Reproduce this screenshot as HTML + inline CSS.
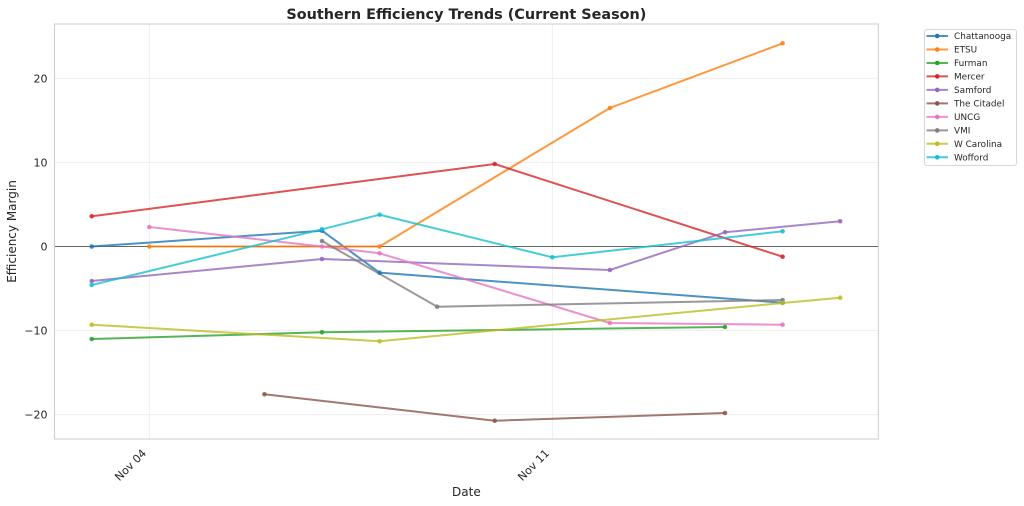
<!DOCTYPE html>
<html><head><meta charset="utf-8"><style>
html,body{margin:0;padding:0;background:#fff;}
svg{display:block;}
text{font-family:"DejaVu Sans","Liberation Sans",sans-serif;fill:#262626;}
</style></head><body>
<svg width="1024" height="506" viewBox="0 0 1024 506" xmlns="http://www.w3.org/2000/svg">
<rect width="1024" height="506" fill="#fff"/>
<!-- grid -->
<g stroke="#ebebeb" stroke-width="0.8">
<line x1="54.5" x2="878.3" y1="78.3" y2="78.3"/>
<line x1="54.5" x2="878.3" y1="162.4" y2="162.4"/>
<line x1="54.5" x2="878.3" y1="330.6" y2="330.6"/>
<line x1="54.5" x2="878.3" y1="414.7" y2="414.7"/>
<line x1="149.3" x2="149.3" y1="24" y2="439"/>
<line x1="552.3" x2="552.3" y1="24" y2="439"/>
</g>
<!-- zero line -->
<line x1="54.5" x2="878.3" y1="246.5" y2="246.5" stroke="#000" stroke-opacity="0.6" stroke-width="0.9"/>
<!-- series -->
<g fill="none" stroke-width="2" stroke-opacity="0.8" stroke-linejoin="round" stroke-linecap="round">
<polyline stroke="#1f77b4" points="91.7,246.5 322,230.7 379.6,272.7 782.6,302.7"/>
<polyline stroke="#ff7f0e" points="149.3,246.5 379.6,246.5 609.9,108 782.6,43.3"/>
<polyline stroke="#2ca02c" points="91.7,339 322,332.3 725,327"/>
<polyline stroke="#d62728" points="91.7,216.3 494.7,164 782.6,256.7"/>
<polyline stroke="#9467bd" points="91.7,281 322,259 609.9,270 725,232.3 840.2,221.3"/>
<polyline stroke="#8c564b" points="264.4,394.3 494.7,420.7 725,413"/>
<polyline stroke="#e377c2" points="149.3,227 322,246.5 379.6,253.3 609.9,323 782.6,324.7"/>
<polyline stroke="#7f7f7f" points="322,241 437.2,306.7 782.6,300"/>
<polyline stroke="#bcbd22" points="91.7,324.7 379.6,341.3 782.6,303 840.2,297.7"/>
<polyline stroke="#17becf" points="91.7,285 322,229.3 379.6,214.7 552.3,257.3 782.6,231.3"/>
</g>
<g fill-opacity="0.85">
<g fill="#1f77b4"><circle cx="91.7" cy="246.5" r="2.3"/><circle cx="322" cy="230.7" r="2.3"/><circle cx="379.6" cy="272.7" r="2.3"/><circle cx="782.6" cy="302.7" r="2.3"/></g>
<g fill="#ff7f0e"><circle cx="149.3" cy="246.5" r="2.3"/><circle cx="379.6" cy="246.5" r="2.3"/><circle cx="609.9" cy="108" r="2.3"/><circle cx="782.6" cy="43.3" r="2.3"/></g>
<g fill="#2ca02c"><circle cx="91.7" cy="339" r="2.3"/><circle cx="322" cy="332.3" r="2.3"/><circle cx="725" cy="327" r="2.3"/></g>
<g fill="#d62728"><circle cx="91.7" cy="216.3" r="2.3"/><circle cx="494.7" cy="164" r="2.3"/><circle cx="782.6" cy="256.7" r="2.3"/></g>
<g fill="#9467bd"><circle cx="91.7" cy="281" r="2.3"/><circle cx="322" cy="259" r="2.3"/><circle cx="609.9" cy="270" r="2.3"/><circle cx="725" cy="232.3" r="2.3"/><circle cx="840.2" cy="221.3" r="2.3"/></g>
<g fill="#8c564b"><circle cx="264.4" cy="394.3" r="2.3"/><circle cx="494.7" cy="420.7" r="2.3"/><circle cx="725" cy="413" r="2.3"/></g>
<g fill="#e377c2"><circle cx="149.3" cy="227" r="2.3"/><circle cx="322" cy="246.5" r="2.3"/><circle cx="379.6" cy="253.3" r="2.3"/><circle cx="609.9" cy="323" r="2.3"/><circle cx="782.6" cy="324.7" r="2.3"/></g>
<g fill="#7f7f7f"><circle cx="322" cy="241" r="2.3"/><circle cx="437.2" cy="306.7" r="2.3"/><circle cx="782.6" cy="300" r="2.3"/></g>
<g fill="#bcbd22"><circle cx="91.7" cy="324.7" r="2.3"/><circle cx="379.6" cy="341.3" r="2.3"/><circle cx="782.6" cy="303" r="2.3"/><circle cx="840.2" cy="297.7" r="2.3"/></g>
<g fill="#17becf"><circle cx="91.7" cy="285" r="2.3"/><circle cx="322" cy="229.3" r="2.3"/><circle cx="379.6" cy="214.7" r="2.3"/><circle cx="552.3" cy="257.3" r="2.3"/><circle cx="782.6" cy="231.3" r="2.3"/></g>
</g>
<!-- axes frame -->
<rect x="54.5" y="24" width="823.8" height="415" fill="none" stroke="#cccccc" stroke-width="1"/>
<!-- y ticks -->
<g font-size="11" text-anchor="end">
<text x="47.5" y="82.3">20</text>
<text x="47.5" y="166.4">10</text>
<text x="47.5" y="250.5">0</text>
<text x="47.5" y="334.6">−10</text>
<text x="47.5" y="418.7">−20</text>
</g>
<!-- x ticks -->
<g font-size="11" text-anchor="middle">
<text transform="translate(133.2,467.7) rotate(-45)">Nov 04</text>
<text transform="translate(536.2,467.7) rotate(-45)">Nov 11</text>
</g>
<!-- labels -->
<text x="466.4" y="496" font-size="12" text-anchor="middle">Date</text>
<text transform="translate(16,231.5) rotate(-90)" font-size="12" text-anchor="middle">Efficiency Margin</text>
<text x="466.4" y="19" font-size="14.3" font-weight="bold" text-anchor="middle" textLength="360" lengthAdjust="spacingAndGlyphs">Southern Efficiency Trends (Current Season)</text>
<!-- legend -->
<rect x="924.5" y="29.5" width="92" height="136" rx="2.5" fill="#fff" fill-opacity="0.8" stroke="#d6d6d6" stroke-width="1"/>
<g stroke-width="2" stroke-opacity="0.8">
<line x1="926.5" x2="948" y1="36" y2="36" stroke="#1f77b4"/>
<line x1="926.5" x2="948" y1="49.5" y2="49.5" stroke="#ff7f0e"/>
<line x1="926.5" x2="948" y1="63" y2="63" stroke="#2ca02c"/>
<line x1="926.5" x2="948" y1="76.4" y2="76.4" stroke="#d62728"/>
<line x1="926.5" x2="948" y1="89.9" y2="89.9" stroke="#9467bd"/>
<line x1="926.5" x2="948" y1="103.4" y2="103.4" stroke="#8c564b"/>
<line x1="926.5" x2="948" y1="116.9" y2="116.9" stroke="#e377c2"/>
<line x1="926.5" x2="948" y1="130.4" y2="130.4" stroke="#7f7f7f"/>
<line x1="926.5" x2="948" y1="143.8" y2="143.8" stroke="#bcbd22"/>
<line x1="926.5" x2="948" y1="157.3" y2="157.3" stroke="#17becf"/>
</g>
<g>
<circle cx="937.2" cy="36" r="2.3" fill="#1f77b4"/>
<circle cx="937.2" cy="49.5" r="2.3" fill="#ff7f0e"/>
<circle cx="937.2" cy="63" r="2.3" fill="#2ca02c"/>
<circle cx="937.2" cy="76.4" r="2.3" fill="#d62728"/>
<circle cx="937.2" cy="89.9" r="2.3" fill="#9467bd"/>
<circle cx="937.2" cy="103.4" r="2.3" fill="#8c564b"/>
<circle cx="937.2" cy="116.9" r="2.3" fill="#e377c2"/>
<circle cx="937.2" cy="130.4" r="2.3" fill="#7f7f7f"/>
<circle cx="937.2" cy="143.8" r="2.3" fill="#bcbd22"/>
<circle cx="937.2" cy="157.3" r="2.3" fill="#17becf"/>
</g>
<g font-size="8.9">
<text x="954" y="39.2">Chattanooga</text>
<text x="954" y="52.7">ETSU</text>
<text x="954" y="66.2">Furman</text>
<text x="954" y="79.6">Mercer</text>
<text x="954" y="93.1">Samford</text>
<text x="954" y="106.6">The Citadel</text>
<text x="954" y="120.1">UNCG</text>
<text x="954" y="133.6">VMI</text>
<text x="954" y="147">W Carolina</text>
<text x="954" y="160.5">Wofford</text>
</g>
</svg>
</body></html>
